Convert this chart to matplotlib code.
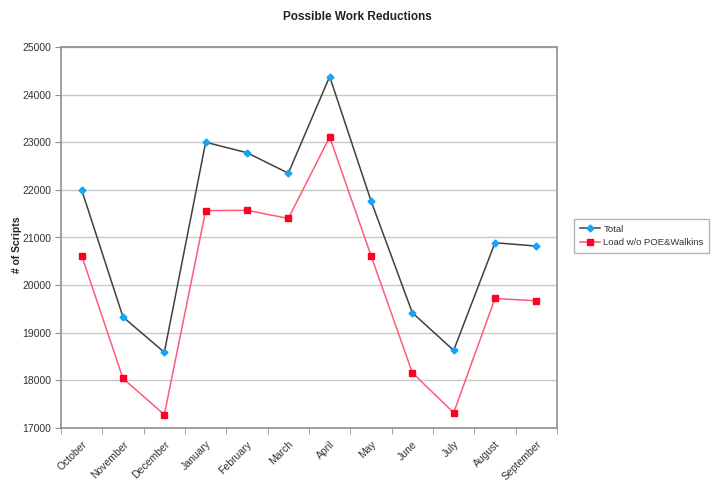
import matplotlib.pyplot as plt
import numpy as np

plt.rcParams['font.family'] = ['Liberation Sans', 'DejaVu Sans']

months = ['October', 'November', 'December', 'January', 'February', 'March',
          'April', 'May', 'June', 'July', 'August', 'September']
total = [22000, 19330, 18590, 23000, 22780, 22350,
         24380, 21770, 19420, 18630, 20890, 20820]
load_wo_poe = [20620, 18040, 17280, 21565, 21570, 21400,
               23110, 20620, 18160, 17320, 19720, 19670]

fig = plt.figure(figsize=(7.17, 4.83), dpi=100)
ax = fig.add_axes([61 / 717, 1 - 428 / 483, 496 / 717, 381 / 483])

x = np.arange(len(months))
ax.plot(x, total, '-', color='#404040', linewidth=1.1,
        marker='D', markersize=3.5, markerfacecolor='#1aa3f0',
        markeredgecolor='#1aa3f0', label='Total')
ax.plot(x, load_wo_poe, '-', color='#ff5a78', linewidth=1.1,
        marker='s', markersize=5, markerfacecolor='#ff0022',
        markeredgecolor='#ff0022', label='Load w/o POE&Walkins')

ax.set_xlim(-0.5, len(months) - 0.5)
ax.set_ylim(17000, 25000)
ax.set_yticks(np.arange(17000, 25001, 1000))
ax.yaxis.grid(True, color='#c8c8c8', linewidth=1)
ax.set_axisbelow(True)

ax.set_xticks(x)
ax.set_xticklabels(months, rotation=45, ha='right', rotation_mode='anchor',
                   fontsize=7.5, color='#333333')
ax.set_xticks(np.arange(-0.5, len(months), 1), minor=True)
ax.tick_params(axis='x', which='major', length=0, pad=8)
ax.tick_params(axis='x', which='minor', length=4, color='#909090')
ax.tick_params(axis='y', length=4, color='#909090', labelsize=7.5,
               labelcolor='#333333', pad=3)

for s in ax.spines.values():
    s.set_color('#909090')
    s.set_linewidth(1.2)

fig.text(357 / 717, 1 - 17 / 483, 'Possible Work Reductions', ha='center',
         va='center', fontsize=8.5, fontweight='bold', color='#222222')
fig.text(17 / 717, 1 - 245 / 483, '# of Scripts', ha='center', va='center',
         rotation=90, fontsize=7.5, fontweight='bold', color='#222222')

fig.legend(loc='upper left', bbox_to_anchor=(574 / 717, 1 - 219 / 483),
           fontsize=6.8, frameon=True, fancybox=False, edgecolor='#a0a0a0',
           borderpad=0.6, borderaxespad=0, handlelength=2.2,
           handletextpad=0.3, labelcolor='#333333')

fig.savefig('out.png', dpi=100)
